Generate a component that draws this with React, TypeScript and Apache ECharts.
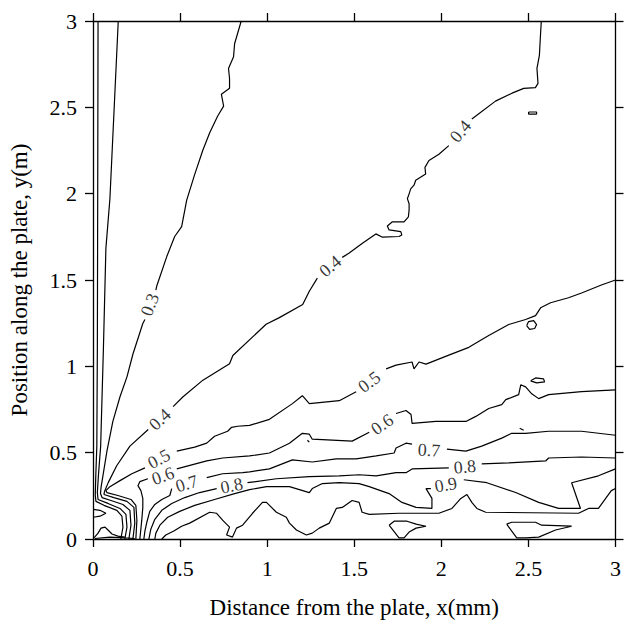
import { useEffect, useRef } from "react";
import * as echarts from "echarts";

type P = [number, number];

const FONT = "'Liberation Serif', 'Times New Roman', serif";

const xTickLabels = ["0", "0.5", "1", "1.5", "2", "2.5", "3"];
const yTickLabels = ["0", "0.5", "1", "1.5", "2", "2.5", "3"];
const xTitle = "Distance from the plate, x(mm)";
const yTitle = "Position along the plate, y(m)";

// contour level 0.1 (polylines)
const c01: P[][] = [
  [[0.029, 3], [0.027, 1.969], [0.025, 1.11], [0.022, 0.538], [0.016, 0.366], [0.013, 0.252], [0.017, 0.218], [0.063, 0.195], [0.137, 0.166], [0.166, 0.132], [0.172, 0.069], [0.16, 0]],
  [[0.002, 0.172], [0.04, 0.166], [0.074, 0.149], [0.04, 0.132], [0.002, 0.126]],
  [[0.006, 0.006], [0.029, 0.034], [0.046, 0.063], [0.069, 0.069], [0.086, 0.052], [0.109, 0.029], [0.143, 0.017], [0.183, 0.011]],
  [[0.011, 0.003], [0.097, 0.011], [0.183, 0.006], [0.24, 0.003]],
];

// contour level 0.2
const c02: P[][] = [
  [[0.145, 3], [0.097, 1.969], [0.074, 1.683], [0.06, 1.11], [0.044, 0.538], [0.031, 0.366], [0.025, 0.269], [0.029, 0.229], [0.086, 0.206], [0.155, 0.177], [0.189, 0.143], [0.195, 0.069], [0.183, 0]],
];

// contour level 0.3
const c03: P[][] = [
  [[0.851, 3], [0.813, 2.868], [0.807, 2.793], [0.778, 2.725], [0.784, 2.667], [0.784, 2.61], [0.737, 2.576], [0.75, 2.507], [0.716, 2.45], [0.67, 2.353], [0.63, 2.25], [0.584, 2.112], [0.538, 1.963], [0.509, 1.809], [0.469, 1.752], [0.424, 1.637], [0.366, 1.465], [0.361, 1.442]],
  [[0.298, 1.271], [0.286, 1.248], [0.229, 1.07], [0.195, 0.939], [0.155, 0.824], [0.114, 0.681], [0.08, 0.509], [0.057, 0.366], [0.046, 0.298], [0.043, 0.263], [0.052, 0.24], [0.103, 0.223], [0.172, 0.2], [0.212, 0.166], [0.218, 0.08], [0.206, 0]],
];

// contour level 0.4
const c04: P[][] = [
  [[2.574, 3], [2.568, 2.896], [2.563, 2.801], [2.549, 2.725], [2.555, 2.639], [2.54, 2.614], [2.473, 2.61], [2.406, 2.582], [2.311, 2.536], [2.196, 2.448], [2.175, 2.433]],
  [[2.043, 2.278], [1.986, 2.228], [1.929, 2.192], [1.906, 2.152], [1.91, 2.114], [1.853, 2.078], [1.843, 2.049], [1.824, 2.028], [1.815, 1.999], [1.805, 1.971], [1.815, 1.942], [1.815, 1.906], [1.811, 1.866], [1.786, 1.837], [1.719, 1.837], [1.69, 1.813], [1.7, 1.79], [1.767, 1.78], [1.773, 1.761], [1.757, 1.752], [1.662, 1.748], [1.624, 1.767], [1.547, 1.713], [1.471, 1.656], [1.431, 1.631]],
  [[1.288, 1.511], [1.242, 1.435], [1.204, 1.358], [1.07, 1.282], [0.994, 1.244], [0.803, 1.063], [0.784, 1.015], [0.631, 0.92], [0.517, 0.824], [0.46, 0.767]],
  [[0.317, 0.634], [0.212, 0.538], [0.136, 0.424], [0.088, 0.328], [0.066, 0.275], [0.063, 0.258], [0.12, 0.24], [0.195, 0.218], [0.235, 0.183], [0.24, 0.092], [0.229, 0]],
  [[2.501, 2.473], [2.547, 2.473], [2.547, 2.461], [2.501, 2.461], [2.501, 2.473]],
];

// contour level 0.5
const c05: P[][] = [
  [[3, 1.5], [2.919, 1.471], [2.805, 1.425], [2.73, 1.397], [2.627, 1.368], [2.57, 1.339], [2.541, 1.294], [2.484, 1.271], [2.387, 1.242], [2.272, 1.179], [2.158, 1.11], [2.043, 1.065], [1.912, 1.013], [1.872, 1.025], [1.843, 0.985], [1.832, 1.025], [1.74, 1.007], [1.683, 0.985]],
  [[1.511, 0.853], [1.414, 0.801], [1.242, 0.784], [1.202, 0.83], [1.145, 0.784], [1.013, 0.693], [0.899, 0.658], [0.83, 0.653], [0.796, 0.647], [0.773, 0.624], [0.698, 0.595], [0.653, 0.555], [0.584, 0.532], [0.481, 0.509]],
  [[0.298, 0.412], [0.223, 0.378], [0.155, 0.338], [0.097, 0.303], [0.074, 0.28], [0.08, 0.269], [0.143, 0.252], [0.218, 0.229], [0.246, 0.195], [0.252, 0.109], [0.246, 0]],
  [[2.49, 1.236], [2.501, 1.259], [2.53, 1.265], [2.547, 1.242], [2.536, 1.219], [2.507, 1.214], [2.49, 1.236]],
];

// contour level 0.6
const c06: P[][] = [
  [[3, 0.864], [2.805, 0.853], [2.616, 0.836], [2.559, 0.813], [2.519, 0.841], [2.484, 0.881], [2.456, 0.893], [2.444, 0.836], [2.37, 0.807], [2.347, 0.778], [2.272, 0.756], [2.198, 0.71], [2.141, 0.681], [1.969, 0.681], [1.832, 0.67], [1.826, 0.721], [1.797, 0.744], [1.74, 0.727]],
  [[1.586, 0.618], [1.488, 0.567], [1.259, 0.578], [1.242, 0.607], [1.202, 0.612], [1.128, 0.555], [1.013, 0.498], [0.899, 0.481], [0.744, 0.469], [0.653, 0.452], [0.481, 0.406]],
  [[0.315, 0.349], [0.269, 0.332], [0.258, 0.309], [0.275, 0.28], [0.286, 0.235], [0.286, 0.183], [0.28, 0.109], [0.269, 0]],
  [[2.513, 0.916], [2.541, 0.933], [2.587, 0.927], [2.593, 0.91], [2.547, 0.904], [2.513, 0.916]],
  [[1.231, 0.572], [1.242, 0.561]],
];

// contour level 0.7
const c07: P[][] = [
  [[3, 0.601], [2.805, 0.624], [2.616, 0.624], [2.484, 0.612], [2.404, 0.612], [2.347, 0.584], [2.232, 0.538], [2.141, 0.509], [2.032, 0.521]],
  [[1.832, 0.55], [1.797, 0.555], [1.74, 0.527], [1.729, 0.498], [1.626, 0.481], [1.511, 0.464], [1.397, 0.464], [1.259, 0.446], [1.145, 0.458], [1.013, 0.406], [0.899, 0.389], [0.859, 0.384], [0.744, 0.378], [0.653, 0.355]],
  [[0.452, 0.292], [0.441, 0.252], [0.395, 0.229], [0.355, 0.2], [0.326, 0.16], [0.309, 0.097], [0.298, 0.046], [0.292, 0]],
  [[2.45, 0.641], [2.473, 0.63]],
];

// contour level 0.8
const c08: P[][] = [
  [[3, 0.469], [2.805, 0.475], [2.616, 0.469], [2.599, 0.452], [2.387, 0.441], [2.232, 0.435]],
  [[2.043, 0.412], [1.832, 0.406], [1.797, 0.384], [1.74, 0.384], [1.626, 0.366], [1.528, 0.372], [1.414, 0.366], [1.242, 0.361], [1.053, 0.349], [0.887, 0.326]],
  [[0.71, 0.292], [0.612, 0.269], [0.527, 0.24], [0.452, 0.206], [0.395, 0.166], [0.355, 0.114], [0.332, 0.057], [0.321, 0]],
];

// contour level 0.9 (and the closed cells near the wall)
const c09: P[][] = [
  [[3, 0.406], [2.902, 0.366], [2.748, 0.326], [2.799, 0.177], [2.673, 0.177], [2.559, 0.212], [2.427, 0.269], [2.261, 0.326], [2.129, 0.343]],
  [[1.94, 0.292], [1.912, 0.292], [1.946, 0.235], [1.946, 0.177], [1.855, 0.183], [1.774, 0.212], [1.7, 0.263], [1.586, 0.303], [1.528, 0.321], [1.414, 0.326], [1.317, 0.321], [1.259, 0.292], [1.242, 0.269], [1.185, 0.286], [1.128, 0.303], [0.996, 0.303], [0.899, 0.286], [0.813, 0.263], [0.698, 0.229], [0.584, 0.195], [0.498, 0.16], [0.429, 0.126], [0.384, 0.08], [0.361, 0.034], [0.355, 0]],
  [[0.395, 0], [0.418, 0.023], [0.464, 0.046], [0.509, 0.074], [0.555, 0.092], [0.67, 0.155], [0.71, 0.149], [0.744, 0.109], [0.784, 0.069], [0.767, 0.023], [0.801, 0.011], [0.824, 0.063], [0.859, 0.08], [0.916, 0.149], [0.973, 0.212], [0.996, 0.212], [1.053, 0.155], [1.11, 0.126], [1.128, 0.092], [1.168, 0.052], [1.225, 0.023], [1.259, 0.034], [1.299, 0.063], [1.357, 0.092], [1.397, 0.177], [1.431, 0.183], [1.488, 0.223], [1.528, 0.212], [1.545, 0.155], [1.586, 0.143], [1.757, 0.149], [1.986, 0.149], [2.061, 0.177], [2.112, 0.235], [2.147, 0.258], [2.175, 0.212], [2.204, 0.177], [2.255, 0.155], [2.788, 0.149], [2.845, 0.177], [2.902, 0.177], [2.976, 0.28], [3, 0.292]],
  [[1.7, 0.08], [1.729, 0.103], [1.803, 0.103], [1.855, 0.086], [1.912, 0.074], [1.855, 0.063], [1.815, 0.04], [1.786, 0.006], [1.757, 0.006], [1.7, 0.08]],
  [[2.375, 0.086], [2.404, 0.097], [2.541, 0.097], [2.576, 0.08], [2.748, 0.074], [2.656, 0.052], [2.559, 0.011], [2.484, 0.006], [2.433, 0.006], [2.375, 0.086]],
];

// inline contour labels: [x, y, text]
const contourLabels: [number, number, string][] = [
  [0.326, 1.357, "0.3"],
  [2.11, 2.362, "0.4"],
  [1.362, 1.58, "0.4"],
  [0.384, 0.693, "0.4"],
  [1.586, 0.91, "0.5"],
  [0.378, 0.464, "0.5"],
  [1.66, 0.664, "0.6"],
  [0.401, 0.366, "0.6"],
  [1.929, 0.515, "0.7"],
  [0.538, 0.321, "0.7"],
  [2.135, 0.418, "0.8"],
  [0.796, 0.309, "0.8"],
  [2.026, 0.315, "0.9"],
];
const labelRotation = [69, 50, 40, 43, 37, 28, 35, 19, -3, 17, 5, 11, 10];

const allLevels = [c01, c02, c03, c04, c05, c06, c07, c08, c09];

export default function App() {
  const ref = useRef<HTMLDivElement>(null);
  useEffect(() => {
    const chart = echarts.init(ref.current!, null, { renderer: "svg" });
    const lineSeries: any[] = [];
    allLevels.forEach((lv) =>
      lv.forEach((seg) =>
        lineSeries.push({
          type: "line",
          data: seg,
          symbol: "none",
          showSymbol: false,
          silent: true,
          lineStyle: { color: "#000", width: 1.2 },
          z: 3,
        })
      )
    );
    const axisBase = {
      type: "value",
      min: 0,
      max: 3,
      interval: 0.5,
      axisLine: { show: true, onZero: false, lineStyle: { color: "#000", width: 1.3 } },
      axisTick: { show: true, inside: false, length: 8, lineStyle: { color: "#000", width: 1.3 } },
      splitLine: { show: false },
    };
    chart.setOption({
      animation: false,
      backgroundColor: "#fff",
      grid: { left: 93, right: 7, top: 21, bottom: 80, containLabel: false },
      xAxis: [
        {
          ...axisBase,
          position: "bottom",
          axisLabel: {
            fontSize: 22,
            fontFamily: FONT,
            color: "#000",
            margin: 18,
            formatter: (v: number) => xTickLabels[Math.round(v / 0.5)],
          },
          name: xTitle,
          nameLocation: "middle",
          nameGap: 57,
          nameTextStyle: { fontSize: 23, fontFamily: FONT, color: "#000" },
        },
        { ...axisBase, position: "top", axisLabel: { show: false } },
      ],
      yAxis: [
        {
          ...axisBase,
          position: "left",
          axisLabel: {
            fontSize: 22,
            fontFamily: FONT,
            color: "#000",
            margin: 16,
            formatter: (v: number) => yTickLabels[Math.round(v / 0.5)],
          },
          name: yTitle,
          nameLocation: "middle",
          nameGap: 62,
          nameTextStyle: { fontSize: 23, fontFamily: FONT, color: "#000" },
        },
        { ...axisBase, position: "right", axisLabel: { show: false } },
      ],
      series: [
        ...lineSeries,
        {
          type: "scatter",
          silent: true,
          symbolSize: 1,
          itemStyle: { color: "rgba(0,0,0,0)" },
          z: 4,
          data: contourLabels.map((l, i) => ({
            value: [l[0], l[1]],
            name: l[2],
            label: { rotate: labelRotation[i] },
          })),
          label: {
            show: true,
            position: "inside",
            formatter: "{b}",
            fontSize: 18,
            fontFamily: FONT,
            color: "#000",
            textBorderWidth: 0,
            textBorderColor: "transparent",
          },
        },
      ],
    });
    return () => chart.dispose();
  }, []);
  return (
    <div
      ref={ref}
      style={{ position: "fixed", left: 0, top: 0, width: 624, height: 624, background: "#fff" }}
    />
  );
}
